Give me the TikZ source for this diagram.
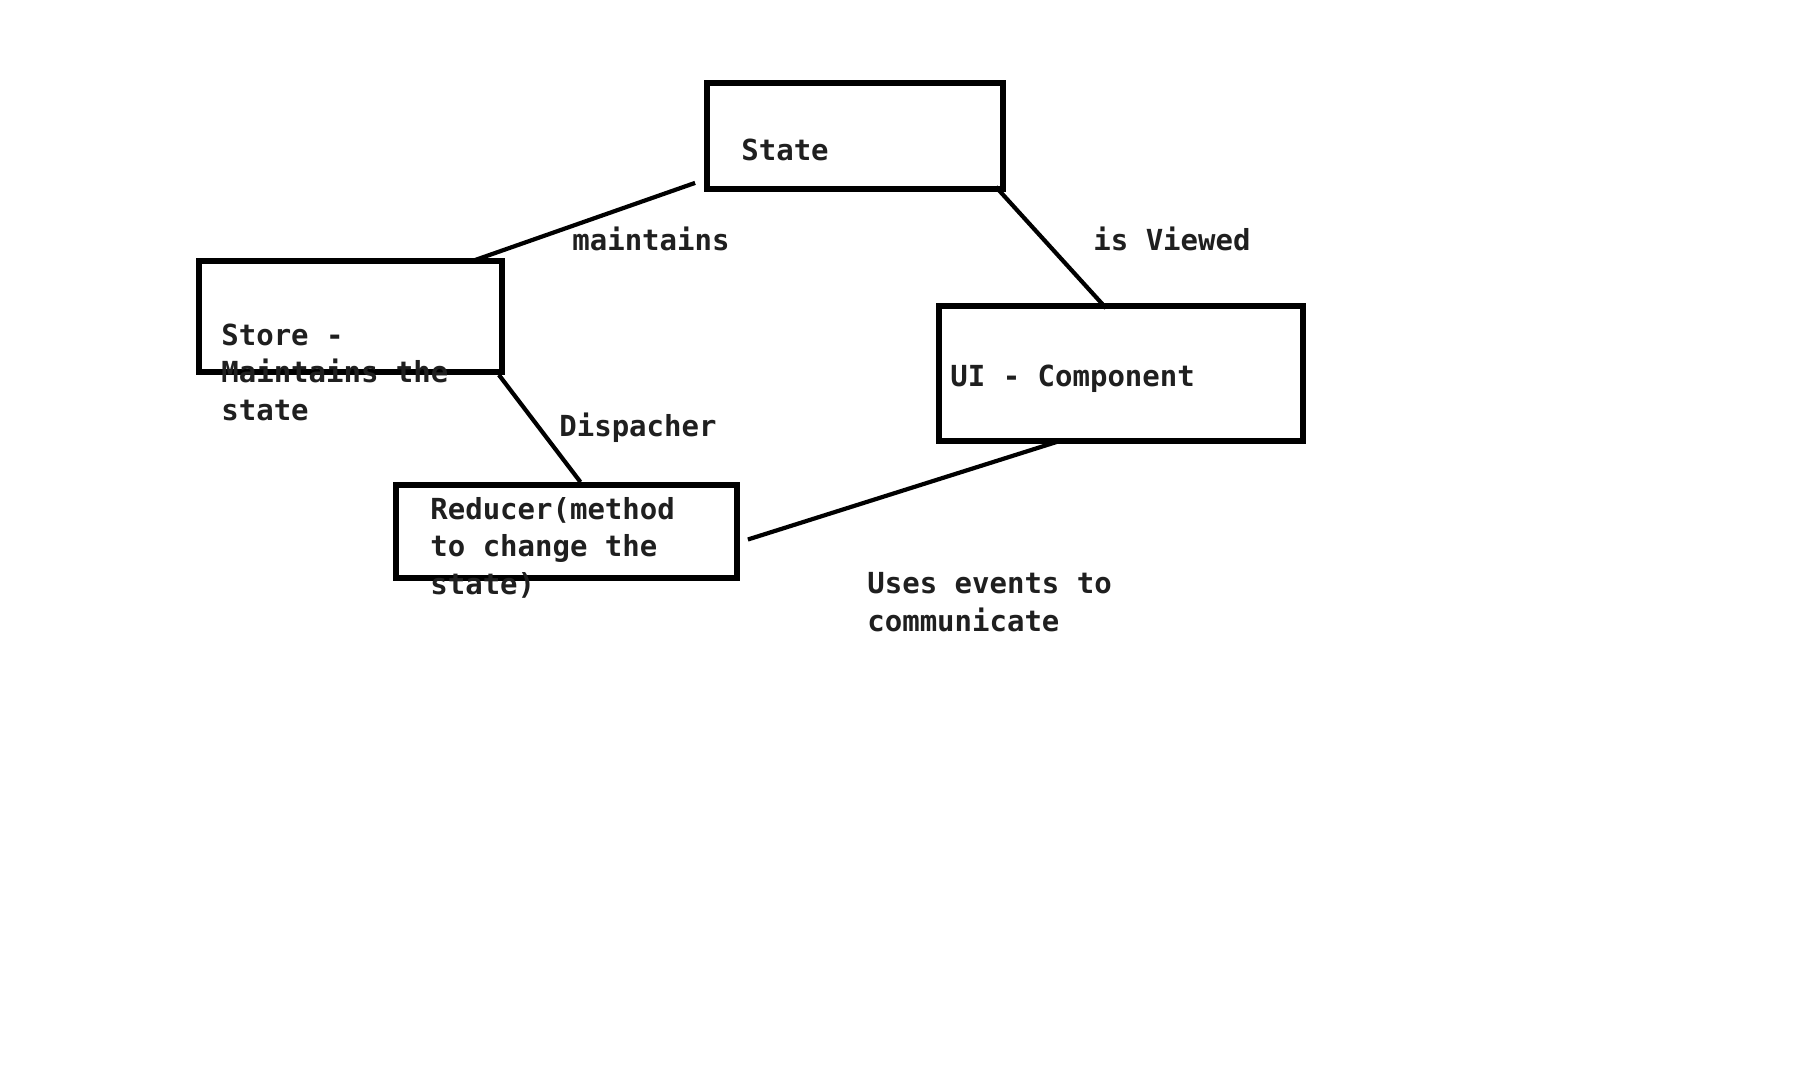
\documentclass[tikz,border=0pt]{standalone}
\usepackage{fontspec}
\usepackage{xcolor}
\usepackage{tikz}
\usetikzlibrary{positioning}
\newfontfamily\sketchfont{DejaVu Sans Mono}

\begin{document}
\begin{tikzpicture}[
  x=0.5pt, y=-0.5pt,
  every node/.style={font=\sketchfont\bfseries\fontsize{14.5pt}{18.7pt}\selectfont, text=black!88},
  block/.style={rectangle, draw=black, line width=2.9pt, inner sep=0pt},
  tag/.style={anchor=base west, inner sep=0pt, align=left},
  link/.style={draw=black, line width=2.1pt}
]
\useasboundingbox[fill=white] (0,0) rectangle (1806,1082);

\node[block, minimum width=148pt, minimum height=53pt]   (state)   at (855,136)   {};
\node[block, minimum width=151.5pt, minimum height=55.5pt] (store) at (350.5,316.5) {};
\node[block, minimum width=182pt, minimum height=67.5pt] (ui)      at (1121,373.5) {};
\node[block, minimum width=170.5pt, minimum height=46.5pt] (reducer) at (566.5,531.5) {};

% multi-line tags sit on the baseline of their last line
\node[tag] (statetxt)   at (741,160)   {State};
\node[tag] (storetxt)   at (221,420)   {Store -\\Maintains the\\state};
\node[tag] (uitxt)      at (950,386)   {UI - Component};
\node[tag] (reducertxt) at (430,594)   {Reducer(method\\to change the\\state)};

\node[tag] (maintains)  at (572,250)   {maintains};
\node[tag] (viewed)     at (1093,250)  {is Viewed};
\node[tag] (dispacher)  at (559,436.5) {Dispacher};
\node[tag] (events)     at (867,631)   {Uses events to\\communicate};

\draw[link] ([xshift=-4.5pt, yshift=4.5pt]state.south west) -- ([xshift=-15pt, yshift=-1pt]store.north east);
\draw[link] ([xshift=-5pt, yshift=2.5pt]state.south east) -- ([xshift=-7.5pt, yshift=-2.5pt]ui.north);
\draw[link] ([xshift=-3pt]store.south east) -- ([xshift=7pt]reducer.north);
\draw[link] ([xshift=-30.5pt, yshift=1.5pt]ui.south) -- ([xshift=4pt, yshift=-4pt]reducer.east);
\end{tikzpicture}
\end{document}
